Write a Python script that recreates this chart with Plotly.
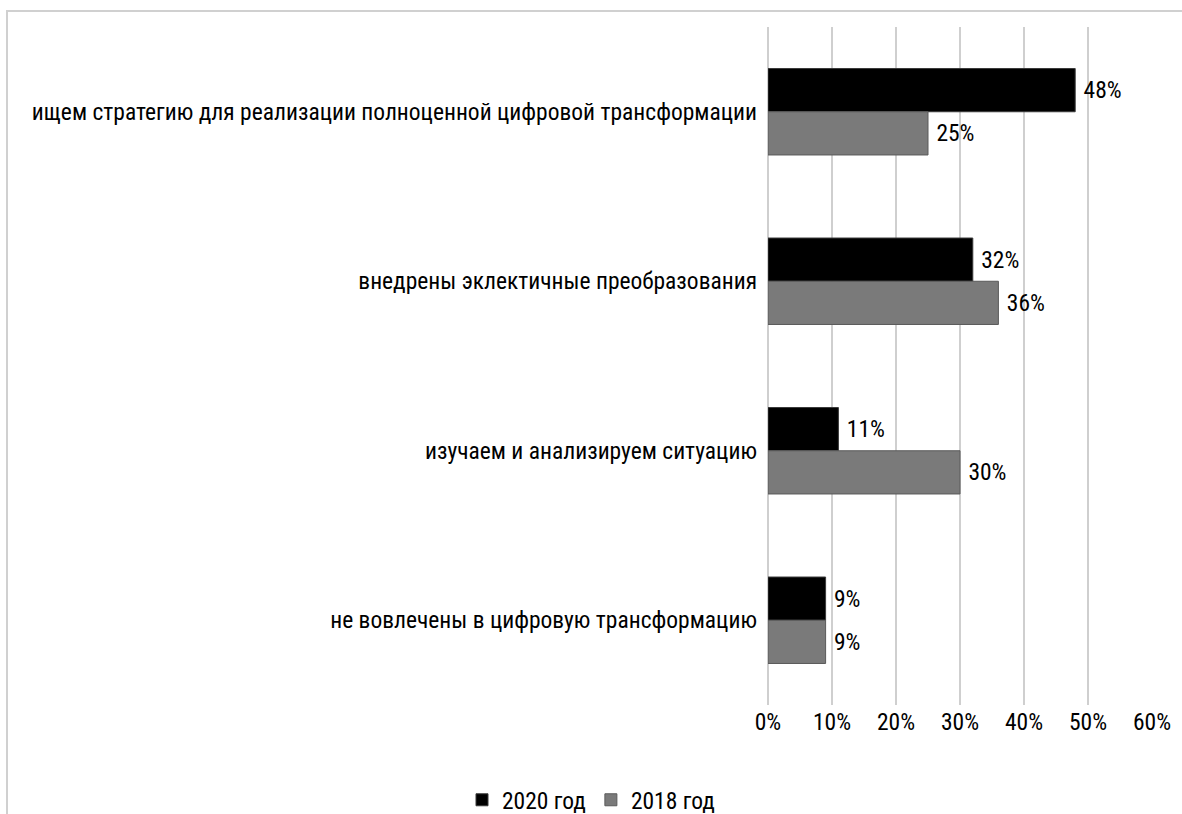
import plotly.graph_objects as go

categories = [
    "ищем стратегию для реализации полноценной цифровой трансформации",
    "внедрены эклектичные преобразования",
    "изучаем и анализируем ситуацию",
    "не вовлечены в цифровую трансформацию",
]
series_names = ["2020 год", "2018 год"]
values_2020 = [0.48, 0.32, 0.11, 0.09]
values_2018 = [0.25, 0.36, 0.30, 0.09]
x_ticks = [0, 0.1, 0.2, 0.3, 0.4, 0.5, 0.6]
x_tick_labels = ["0%", "10%", "20%", "30%", "40%", "50%", "60%"]

FONT = "Liberation Sans Narrow, Arial Narrow, Roboto Condensed, sans-serif"
FS = 23.5

W, H = 1182, 814
L, R, T, B = 768, 1152, 27, 705

fig = go.Figure()
fig.add_trace(go.Bar(
    y=categories, x=values_2020, name=series_names[0], orientation="h",
    marker=dict(color="#000000", line=dict(color="#3a3a3a", width=1)),
    text=[f" {round(v*100)}%" for v in values_2020], textposition="outside",
    textfont=dict(size=FS, color="#000000", family=FONT), cliponaxis=False,
))
fig.add_trace(go.Bar(
    y=categories, x=values_2018, name=series_names[1], orientation="h",
    marker=dict(color="#7a7a7a", line=dict(color="#5a5a5a", width=1)),
    text=[f" {round(v*100)}%" for v in values_2018], textposition="outside",
    textfont=dict(size=FS, color="#000000", family=FONT), cliponaxis=False,
))

def px_x(px):
    return (px - L) / (R - L)

def px_y(py):
    return (B - py) / (B - T)

fig.update_layout(
    width=W, height=H,
    margin=dict(l=L, r=W - R, t=T, b=H - B, autoexpand=False),
    paper_bgcolor="white", plot_bgcolor="white",
    barmode="group", bargap=0.49, bargroupgap=0,
    font=dict(family=FONT, size=FS, color="#000000"),
    showlegend=True,
    legend=dict(orientation="h", x=0.5, xref="container", xanchor="center",
                y=(H - 800) / H, yref="container", yanchor="middle",
                font=dict(size=FS, family=FONT), itemwidth=30,
                traceorder="normal"),
    xaxis=dict(range=[0, 0.6], tickvals=x_ticks, ticktext=x_tick_labels,
               showgrid=True, gridcolor="#cfcfcf", gridwidth=1.5,
               zeroline=True, zerolinecolor="#cfcfcf", zerolinewidth=1.5,
               showline=False, ticks="",
               tickfont=dict(size=FS, family=FONT)),
    yaxis=dict(autorange="reversed", showgrid=False, zeroline=False,
               showline=False, ticks="", ticklabelstandoff=10,
               tickfont=dict(size=FS, family=FONT)),
    shapes=[
        dict(type="line", xref="paper", yref="paper",
             x0=px_x(7), x1=px_x(7), y0=px_y(10), y1=px_y(814),
             line=dict(color="#d0d0d0", width=2)),
        dict(type="line", xref="paper", yref="paper",
             x0=px_x(7), x1=px_x(1182), y0=px_y(11), y1=px_y(11),
             line=dict(color="#d0d0d0", width=2)),
    ],
)

fig.write_html("out.html",
               config={"displayModeBar": False},
               post_script="document.body.style.margin='0';document.body.style.overflow='hidden';")
